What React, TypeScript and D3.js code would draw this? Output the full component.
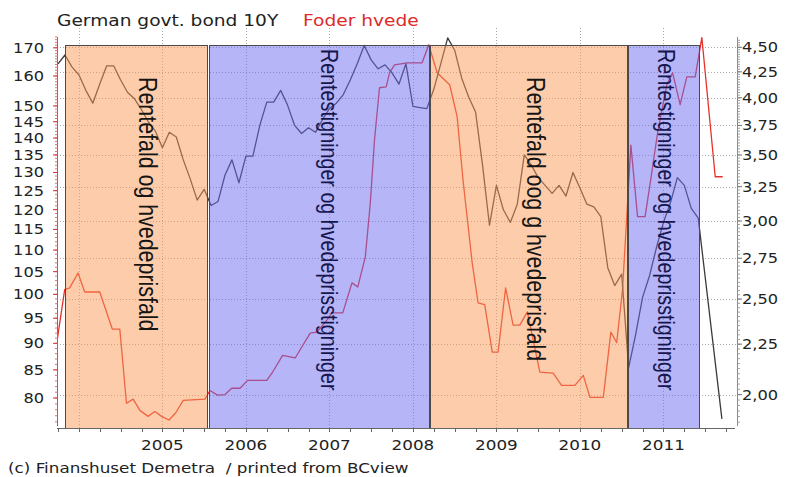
import React from 'react';
import * as d3 from 'd3';

const W = 787;
const H = 477;

// German govt. bond 10Y, month-end yields (%) from Sep 2003 to May 2011 (right axis)
const bondStart = 2003.75;
const bondMonthly = [
  4.33, 4.42, 4.30, 4.22, 4.07, 3.95, 4.13, 4.31, 4.31, 4.17, 4.05, 3.99, 3.89, 3.78, 3.70, 3.56,
  3.69, 3.65, 3.46, 3.31, 3.15, 3.23, 3.11, 3.14, 3.34, 3.46, 3.28, 3.49,
  3.49, 3.75, 3.96, 3.96, 4.07, 3.93, 3.75, 3.68, 3.73, 3.69, 3.80, 3.90,
  3.95, 4.03, 4.17, 4.33, 4.52, 4.37, 4.28, 4.32, 4.24, 4.13, 4.33, 3.92,
  3.91, 3.90, 4.08, 4.33, 4.60, 4.47, 4.19, 4.01, 3.87, 3.42, 2.97, 3.26,
  3.08, 2.99, 3.12, 3.50, 3.42, 3.32, 3.26, 3.20, 3.26, 3.18, 3.36, 3.24,
  3.12, 3.10, 3.03, 2.69, 2.58, 2.65, 2.13, 2.30, 2.51, 2.64, 2.82, 2.99,
  3.13, 3.32, 3.26, 3.09, 3.02,
];
// last print after the gap
const bondTailYears = [2011.70];
const bondTailValues = [1.89];

// Foder hvede (left axis)
const wheatYears = [
  2003.74, 2003.83, 2003.89, 2003.99, 2004.07, 2004.25, 2004.40, 2004.49, 2004.57, 2004.65,
  2004.73, 2004.83, 2004.91, 2004.99, 2005.08, 2005.16, 2005.25, 2005.51, 2005.57, 2005.66,
  2005.75, 2005.83, 2005.93, 2006.02, 2006.25, 2006.32, 2006.44, 2006.59, 2006.77, 2006.85,
  2006.97, 2007.03, 2007.16, 2007.27, 2007.34, 2007.43, 2007.49, 2007.54, 2007.60, 2007.68,
  2007.72, 2007.78, 2007.93, 2008.11, 2008.19, 2008.29, 2008.44, 2008.53, 2008.60, 2008.71,
  2008.78, 2008.86, 2008.95, 2009.02, 2009.11, 2009.20, 2009.28, 2009.37, 2009.52, 2009.68,
  2009.78, 2009.94, 2010.04, 2010.12, 2010.28, 2010.37, 2010.44, 2010.51, 2010.61, 2010.69,
  2010.78, 2010.86, 2010.93, 2011.04, 2011.11, 2011.20, 2011.28, 2011.38, 2011.46, 2011.62,
  2011.71,
];
const wheatValues = [
  90.6, 101.0, 101.4, 104.7, 100.5, 100.5, 92.8, 92.8, 79.1, 79.8,
  77.9, 76.9, 77.7, 76.9, 76.3, 77.5, 79.6, 79.8, 81.3, 80.5,
  80.6, 81.7, 81.7, 83.1, 83.1, 84.6, 87.7, 87.2, 92.0, 92.2,
  94.6, 96.1, 96.1, 102.5, 101.6, 108.4, 121.8, 139.4, 156.0, 156.3,
  161.1, 163.9, 164.6, 164.6, 171.1, 161.1, 157.0, 146.5, 127.9, 107.0,
  98.2, 97.8, 88.3, 88.3, 101.4, 93.6, 93.6, 96.3, 84.6, 84.4,
  82.2, 82.2, 84.0, 80.1, 80.1, 92.2, 90.1, 101.0, 137.9, 118.2,
  118.2, 129.9, 141.6, 157.0, 161.1, 150.4, 159.7, 159.7, 173.8, 128.8,
  128.8,
];

const leftTicks = [80, 85, 90, 95, 100, 105, 110, 115, 120, 125, 130, 135, 140, 145, 150, 160, 170];
const rightTicks = [2.0, 2.25, 2.5, 2.75, 3.0, 3.25, 3.5, 3.75, 4.0, 4.25, 4.5];
const gridYears = [2004, 2005, 2006, 2007, 2008, 2009, 2010, 2011];
const yearLabels = [2005, 2006, 2007, 2008, 2009, 2010, 2011];

// shaded periods
const regionStart = [2003.83, 2005.56, 2008.20, 2010.58];
const regionEnd = [2005.53, 2008.19, 2010.56, 2011.42];
const regionRising = [false, true, false, true];
const regionText = [
  'Rentefald og hvedeprisfald',
  'Rentestigninger og hvedeprisstigninger',
  'Rentefald oog g hvedeprisfald',
  'Rentestigninger og hvedeprisstigninger',
];
const regionTextYear = [2004.72, 2006.90, 2009.37, 2010.93];

const SX = 1.2; // the picture is stretched sideways

export default function App() {
  const x = d3.scaleLinear().domain([2003.75, 2011.833]).range([58, 733]);
  const yL = d3.scaleLog().domain([75, 174]).range([428, 37]);
  const yR = d3.scaleLog().domain([1.85, 4.61]).range([428, 37]);

  const bondPts: [number, number][] = bondMonthly
    .map((v, i) => [bondStart + i / 12, v] as [number, number])
    .concat(bondTailYears.map((t, i) => [t, bondTailValues[i]] as [number, number]));
  const wheatPts: [number, number][] = wheatYears.map((t, i) => [t, wheatValues[i]]);

  const bondLine = d3.line<[number, number]>().x(d => x(d[0])).y(d => yR(d[1]));
  const wheatLine = d3.line<[number, number]>().x(d => x(d[0])).y(d => yL(d[1]));

  const quarters = d3.range(2003.75, 2011.76, 0.25);
  const leftMinor = d3.range(76, 175, 1);
  const rightMinor = d3.range(1.875, 4.6, 0.025);
  const fmtR = (v: number) => d3.format('.2f')(v).replace('.', ',');

  const labelFont = 'DejaVu Sans, Verdana, sans-serif';
  const plotBottom = 428;
  const rectTop = 45;

  return (
    <div style={{ position: 'fixed', left: 0, top: 0 }}>
      <svg width={W} height={H} style={{ display: 'block', background: '#fff' }}>
        <defs>
          <clipPath id="plot">
            <rect x={57} y={30} width={680} height={400} />
          </clipPath>
        </defs>

        {/* title */}
        <g fontFamily={labelFont} fontSize={15.5}>
          <text transform={`translate(57,26) scale(${SX},1)`} fill="#222">German govt. bond 10Y</text>
          <text transform={`translate(303,26) scale(${SX},1)`} fill="#dd2a2a">Foder hvede</text>
        </g>

        {/* grid */}
        <g stroke="#a8a8a8" strokeWidth={1} strokeDasharray="1 2">
          {gridYears.map(yr => (
            <line key={yr} x1={Math.round(x(yr)) + 0.5} x2={Math.round(x(yr)) + 0.5} y1={28} y2={plotBottom} />
          ))}
          {rightTicks.map(v => (
            <line key={v} x1={57} x2={737} y1={Math.round(yR(v)) + 0.5} y2={Math.round(yR(v)) + 0.5} />
          ))}
        </g>

        {/* series */}
        <g clipPath="url(#plot)" fill="none" strokeWidth={1.3} strokeLinejoin="round">
          <path d={wheatLine(wheatPts) ?? ''} stroke="#e6302a" />
          <path d={bondLine(bondPts) ?? ''} stroke="#3a3a3a" />
        </g>

        {/* shaded periods, laid over the lines */}
        {regionStart.map((s, i) => {
          const x0 = Math.round(x(s)) + 0.5;
          const x1 = Math.round(x(regionEnd[i])) + 0.5;
          return (
            <g key={i}>
              <rect x={x0} y={rectTop + 0.5} width={x1 - x0} height={plotBottom - rectTop}
                fill={regionRising[i] ? '#6b6bf2' : '#f99a58'} fillOpacity={0.5} />
              <rect x={x0} y={rectTop + 0.5} width={x1 - x0} height={plotBottom - rectTop}
                fill="none" stroke="#4a4a4a" strokeWidth={1} />
            </g>
          );
        })}

        {/* period captions */}
        {regionText.map((t, i) => (
          <text key={i}
            transform={`translate(${x(regionTextYear[i])},${regionRising[i] ? 49 : 77}) scale(${SX},1) rotate(90)`}
            fontFamily="Liberation Sans, Arial, sans-serif"
            fontSize={regionRising[i] ? 19.7 : 21.4}
            fill={regionRising[i] ? '#16164e' : '#151515'}>
            {t}
          </text>
        ))}

        {/* left axis (Foder hvede) */}
        <g>
          <line x1={57.5} x2={57.5} y1={37} y2={426} stroke="#e04848" strokeWidth={1} />
          {leftMinor.map(v => (
            <line key={v} x1={55} x2={57.5} y1={yL(v)} y2={yL(v)} stroke="#e87070" strokeWidth={1} />
          ))}
          {leftTicks.map(v => (
            <g key={v}>
              <line x1={53} x2={57.5} y1={yL(v)} y2={yL(v)} stroke="#d03030" strokeWidth={1} />
              <text transform={`translate(44,${yL(v) + 5}) scale(${SX},1)`} textAnchor="end"
                fontFamily={labelFont} fontSize={13.5} fill="#222">{v}</text>
            </g>
          ))}
        </g>

        {/* right axis (bond) */}
        <g>
          <line x1={737.5} x2={737.5} y1={37} y2={426} stroke="#8a8a8a" strokeWidth={1} />
          {rightMinor.map(v => (
            <line key={v} x1={737.5} x2={740} y1={yR(v)} y2={yR(v)} stroke="#a0a0a0" strokeWidth={1} />
          ))}
          {rightTicks.map(v => (
            <g key={v}>
              <line x1={737.5} x2={742} y1={yR(v)} y2={yR(v)} stroke="#777" strokeWidth={1} />
              <text transform={`translate(742,${yR(v) + 5}) scale(${SX},1)`}
                fontFamily={labelFont} fontSize={13.5} fill="#222">{fmtR(v)}</text>
            </g>
          ))}
        </g>

        {/* time axis */}
        <g>
          <line x1={57} x2={735} y1={plotBottom + 0.5} y2={plotBottom + 0.5} stroke="#666" strokeWidth={1} />
          {quarters.map(q => (
            <line key={q} x1={Math.round(x(q)) + 0.5} x2={Math.round(x(q)) + 0.5}
              y1={plotBottom} y2={plotBottom + 4} stroke="#666" strokeWidth={1} />
          ))}
          {yearLabels.map(yr => (
            <text key={yr} transform={`translate(${x(yr)},450) scale(${SX},1)`} textAnchor="middle"
              fontFamily={labelFont} fontSize={14} fill="#222">{yr}</text>
          ))}
        </g>

        <text transform={`translate(8,473) scale(${SX},1)`} fontFamily={labelFont} fontSize={14}
          fill="#222" style={{ whiteSpace: 'pre' }}>
          {'(c) Finanshuset Demetra  / printed from BCview'}
        </text>
      </svg>
    </div>
  );
}
